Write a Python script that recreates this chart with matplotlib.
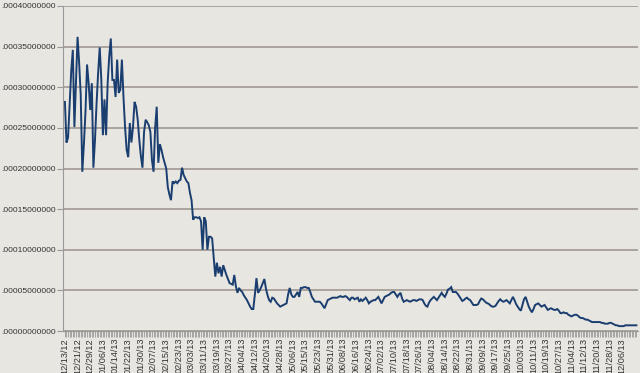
import matplotlib.pyplot as plt
from matplotlib.ticker import FuncFormatter, MultipleLocator

# Values, in units of 1e-5 (one row per 8 days)
rate_e5 = [
    28.2, 23.2, 23.8, 28.0, 32.0, 34.6, 25.1, 30.5,
    36.2, 33.0, 29.0, 19.6, 23.0, 27.0, 32.8, 30.5,
    27.2, 30.5, 20.1, 23.5, 28.0, 31.8, 34.9, 30.9,
    24.1, 28.5, 24.1, 30.5, 33.8, 36.0, 30.9, 30.9,
    28.8, 33.4, 29.3, 29.7, 33.4, 28.8, 25.1, 22.3,
    21.4, 25.6, 23.2, 25.1, 28.2, 27.6, 26.0, 23.5,
    21.5, 20.1, 24.5, 26.0, 25.7, 25.3, 24.5, 21.0,
    19.6, 25.0, 27.6, 20.7, 23.0, 22.3, 21.4, 20.7,
    20.0, 17.7, 16.8, 16.1, 18.4, 18.2, 18.4, 18.2,
    18.5, 18.6, 20.1, 19.2, 18.8, 18.4, 18.2, 17.0,
    16.1, 13.7, 14.0, 14.0, 13.9, 14.0, 13.5, 10.0,
    14.0, 13.5, 10.0, 11.6, 11.6, 11.4, 9.1, 6.7,
    8.4, 7.1, 7.9, 6.7, 8.1, 7.5, 6.9, 6.4,
    5.9, 5.8, 5.7, 6.9, 5.5, 4.7, 5.3, 5.0,
    4.8, 4.4, 4.1, 3.8, 3.4, 3.0, 2.7, 2.7,
    4.5, 6.5, 4.7, 5.0, 5.4, 5.9, 6.4, 5.2,
    4.4, 3.8, 3.6, 4.1, 4.0, 3.7, 3.4, 3.2,
    3.0, 3.1, 3.2, 3.3, 3.4, 4.5, 5.3, 4.5,
    4.2, 4.2, 4.5, 4.8, 4.2, 5.3, 5.3, 5.4,
    5.4, 5.3, 5.3, 4.8, 4.2, 3.9, 3.6, 3.6,
    3.6, 3.6, 3.4, 3.1, 2.8, 3.3, 3.8, 3.9,
    4.0, 4.1, 4.1, 4.1, 4.1, 4.2, 4.3, 4.2,
    4.2, 4.3, 4.2, 4.0, 3.8, 4.1, 4.1, 3.9,
    4.0, 4.1, 3.6, 3.9, 3.7, 3.9, 4.1, 3.8,
    3.4, 3.6, 3.7, 3.8, 3.8, 4.0, 4.2, 3.8,
    3.4, 3.8, 4.2, 4.3, 4.4, 4.5, 4.7, 4.8,
    4.8, 4.5, 4.2, 4.5, 4.7, 4.0, 3.6, 3.7,
    3.8, 3.7, 3.6, 3.7, 3.8, 3.8, 3.7, 3.8,
    3.9, 3.9, 3.8, 3.4, 3.1, 3.0, 3.5, 3.8,
    4.0, 4.2, 4.0, 3.8, 4.1, 4.4, 4.7, 4.4,
    4.2, 4.6, 5.1, 5.2, 5.4, 4.8, 4.8, 4.8,
    4.6, 4.3, 4.0, 3.7, 3.8, 4.0, 4.1, 3.9,
    3.8, 3.5, 3.2, 3.2, 3.2, 3.3, 3.7, 4.0,
    3.9, 3.7, 3.5, 3.4, 3.3, 3.1, 3.0, 3.0,
    3.1, 3.4, 3.7, 3.9, 3.7, 3.6, 3.7, 3.8,
    3.6, 3.4, 3.8, 4.2, 3.8, 3.3, 3.0, 2.7,
    2.5, 3.2, 3.9, 4.2, 3.6, 3.0, 2.6, 2.3,
    2.7, 3.2, 3.3, 3.4, 3.2, 3.0, 3.1, 3.2,
    2.9, 2.6, 2.7, 2.8, 2.7, 2.6, 2.6, 2.7,
    2.5, 2.2, 2.2, 2.3, 2.2, 2.2, 2.0, 1.9,
    1.8, 1.9, 2.0, 2.0, 1.9, 1.7, 1.6, 1.6,
    1.5, 1.4, 1.4, 1.3, 1.2, 1.1, 1.1, 1.1,
    1.1, 1.1, 1.1, 1.0, 1.0, 0.9, 0.9, 0.9,
    1.0, 1.0, 0.9, 0.8, 0.7, 0.7, 0.6, 0.6,
    0.6, 0.6, 0.7, 0.7, 0.7, 0.7, 0.7, 0.7,
    0.7, 0.7,
]
rate = [v * 1e-5 for v in rate_e5]

# Date labels shown on the axis (every 8th category)
date_labels = [
    '12/13/12', '12/21/12', '12/29/12', '01/06/13', '01/14/13', '01/22/13',
    '01/30/13', '02/07/13', '02/15/13', '02/23/13', '03/03/13', '03/11/13',
    '03/19/13', '03/27/13', '04/04/13', '04/12/13', '04/20/13', '04/28/13',
    '05/06/13', '05/15/13', '05/23/13', '05/31/13', '06/08/13', '06/16/13',
    '06/24/13', '07/02/13', '07/10/13', '07/18/13', '07/26/13', '08/04/13',
    '08/14/13', '08/22/13', '08/31/13', '09/09/13', '09/17/13', '09/25/13',
    '10/03/13', '10/11/13', '10/19/13', '10/27/13', '11/04/13', '11/12/13',
    '11/20/13', '11/28/13', '12/06/13',
]
label_step = 8

bg = '#e8e6e1'
grid_color = '#a69e98'

fig = plt.figure(figsize=(6.4, 3.73), dpi=100, facecolor=bg)
ax = fig.add_axes([63 / 640, 1 - 331 / 373, 575 / 640, 325 / 373], facecolor=bg)

ax.plot(range(len(rate)), rate, color='#1b3e70', lw=1.4, solid_joinstyle='miter')

ax.set_ylim(0, 0.0004)
ax.set_xlim(-1.2, 362)
ax.yaxis.set_major_locator(MultipleLocator(0.00005))
# the reference shows the labels without the leading zero
ax.yaxis.set_major_formatter(FuncFormatter(lambda v, p: ('%.11f' % v)[1:]))
ax.grid(axis='y', color=grid_color, lw=1.3)
ax.set_axisbelow(True)

ax.set_xticks([i * label_step for i in range(len(date_labels))])
ax.set_xticklabels(date_labels, rotation=90, family='Liberation Sans',
                   fontsize=6.6, color='#333333')
ax.set_xticks(range(len(rate)), minor=True)
ax.tick_params(axis='x', which='both', direction='out', length=4,
               width=0.6, color='#999999', pad=1)
ax.tick_params(axis='y', length=4, width=0.8, color='#999999', pad=1)
for t in ax.get_yticklabels():
    t.set_family('Liberation Sans')
    t.set_fontsize(6.0)
    t.set_color('#333333')

for s in ['top', 'right']:
    ax.spines[s].set_visible(False)
ax.spines['left'].set_color('#999999')
ax.spines['bottom'].set_color('#999999')

plt.savefig('out.png', dpi=100, facecolor=bg)
